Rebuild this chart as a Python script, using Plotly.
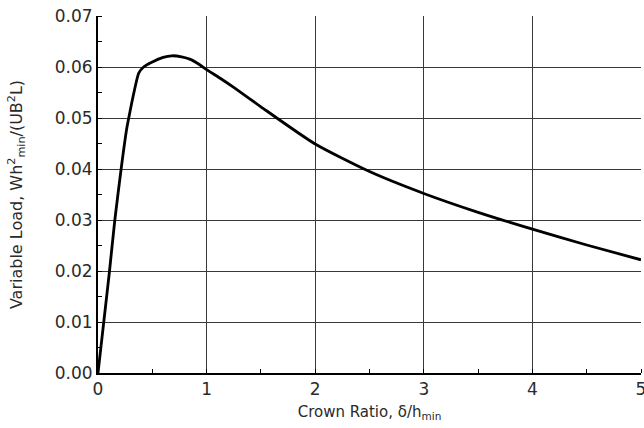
import plotly.graph_objects as go

crown_ratio = [0, 0.053, 0.106, 0.155, 0.213, 0.262, 0.283, 0.336, 0.375, 0.42, 0.50, 0.60,
               0.68, 0.77, 0.85, 0.94, 1.0, 1.125, 1.25, 1.5, 2.0, 2.5, 3.0,
               3.5, 4.0, 4.5, 5.0]
variable_load = [0, 0.010, 0.020, 0.030, 0.040, 0.0476, 0.050, 0.0555, 0.0588, 0.0600, 0.0610,
                 0.0619, 0.0622, 0.0620, 0.0615, 0.0604, 0.0595, 0.0578, 0.0560, 0.0522,
                 0.0449, 0.0395, 0.0352, 0.0315, 0.0282, 0.0251, 0.0222]

x_ticks = [0, 1, 2, 3, 4, 5]
y_ticks = [0.00, 0.01, 0.02, 0.03, 0.04, 0.05, 0.06, 0.07]

font_family = "DejaVu Sans"
txt = "#2a2a2a"

fig = go.Figure()
fig.add_trace(go.Scatter(
    x=crown_ratio, y=variable_load, mode="lines",
    line=dict(color="black", width=2.8, shape="spline", smoothing=0.6),
    hoverinfo="skip", showlegend=False,
))

fig.update_layout(
    width=644, height=428,
    margin=dict(l=98, r=3, t=16, b=55),
    paper_bgcolor="white", plot_bgcolor="white",
    font=dict(family=font_family, size=15, color=txt),
    xaxis=dict(
        range=[0, 5], tickvals=x_ticks, ticktext=[str(v) for v in x_ticks],
        showgrid=True, gridcolor="#383838", gridwidth=1,
        showline=True, linecolor="black", linewidth=2,
        ticks="", zeroline=False, automargin=False,
        ticklabeloverflow="allow",
        minor=dict(dtick=0.5, ticks="inside", ticklen=4, tickcolor="black", showgrid=False),
        title=dict(text="Crown Ratio, δ/h<sub>min</sub>", font=dict(size=15, family=font_family, color=txt), standoff=8),
        tickfont=dict(size=17, family=font_family, color=txt),
    ),
    yaxis=dict(
        range=[0, 0.07], tickvals=y_ticks, ticktext=[f"{v:.2f}" for v in y_ticks],
        showgrid=True, gridcolor="#383838", gridwidth=1,
        showline=True, linecolor="black", linewidth=2,
        ticks="", zeroline=False, automargin=False,
        ticklabeloverflow="allow",
        minor=dict(dtick=0.005, ticks="inside", ticklen=4, tickcolor="black", showgrid=False),
        title=dict(text="Variable Load, Wh<sup>2</sup><sub>min</sub>/(UB<sup>2</sup>L)", font=dict(size=16, family=font_family, color=txt), standoff=28),
        tickfont=dict(size=17, family=font_family, color=txt),
    ),
)

fig.write_html(
    "out.html",
    config={"displayModeBar": False},
    post_script="document.body.style.margin='0';document.body.style.overflow='hidden';",
)
